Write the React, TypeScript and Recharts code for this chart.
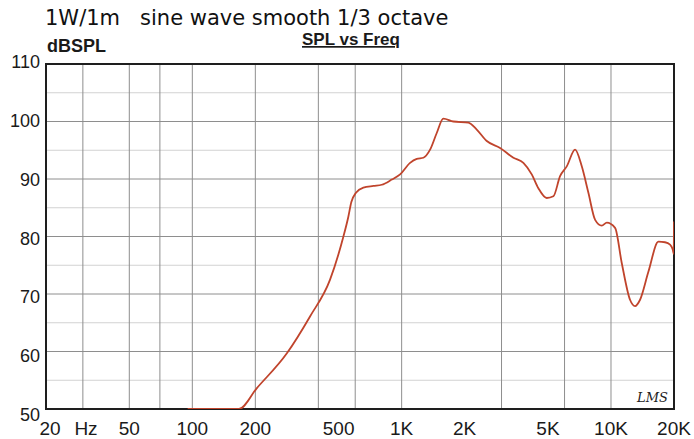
import { CartesianGrid, Line, LineChart, ReferenceArea, XAxis, YAxis } from "recharts"

// SPL response (Hz, dB)
const freqs = [
  95, 120, 150, 167, 203, 283, 365, 455, 527, 556, 575, 605, 656, 733, 803, 897, 983, 1097, 1181, 1270,
  1367, 1471, 1582, 1766, 2083, 2284, 2551, 2953, 3418, 3815, 4183, 4499, 4932, 5307, 5712, 6147, 6738,
  7252, 7800, 8400, 9036, 9550, 10461, 11256, 12330, 13030, 13770, 15100, 16850, 18120, 19150, 19740,
  19950, 20000,
]
const spl = [
  50, 50, 50, 50, 53.6, 59.7, 66.1, 72.5, 80.0, 83.4, 86.0, 87.6, 88.5, 88.8, 89.0, 89.9, 90.8, 92.8, 93.5,
  93.7, 95.1, 98.0, 100.5, 100.0, 99.8, 98.6, 96.6, 95.4, 93.7, 92.8, 90.8, 88.4, 86.7, 87.0, 90.5, 92.2,
  95.1, 92.2, 87.6, 82.9, 81.9, 82.4, 81.5, 75.4, 69.0, 67.9, 69.0, 73.9, 79.1, 79.0, 78.6, 77.7, 77.0,
  82.6,
]

const xTicks = [20, 50, 100, 200, 500, 1000, 2000, 5000, 10000, 20000]
const xTickLabels = ["20", "50", "100", "200", "500", "1K", "2K", "5K", "10K", "20K"]
const yTicks = [50, 60, 70, 80, 90, 100, 110]
const vGrid = [30, 40, 50, 60, 70, 80, 90, 100, 200, 300, 400, 500, 600, 700, 800, 900, 1000, 2000, 3000, 4000, 5000, 6000, 7000, 8000, 9000, 10000]
const hMajor = [60, 70, 80, 90, 100]
const hMinor = [55, 65, 75, 85, 95, 105]

const data = freqs.map((f, i) => ({ f, spl: spl[i] }))

const labelFont = "Arial, 'Liberation Sans', sans-serif"

const XTick = (props: any) => {
  const { x, y, payload } = props
  const i = xTicks.indexOf(payload.value)
  const label = xTickLabels[i]
  if (payload.value === 20) {
    return (
      <g>
        <text x={x + 4} y={y + 26} textAnchor="middle" fontSize={19} fontFamily={labelFont} fill="#1a1a1a">20</text>
        <text x={x + 40} y={y + 26} textAnchor="middle" fontSize={19} fontFamily={labelFont} fill="#1a1a1a">Hz</text>
      </g>
    )
  }
  return (
    <text x={x} y={y + 26} textAnchor="middle" fontSize={19} fontFamily={labelFont} fill="#1a1a1a">
      {label}
    </text>
  )
}

const YTick = (props: any) => {
  const { x, y, payload } = props
  const off = 1.5 - (payload.value - 80) * 0.133
  return (
    <text x={x - 6} y={y + off + 6.5} textAnchor="end" fontSize={18} fontFamily={labelFont} fill="#1a1a1a">
      {payload.value}
    </text>
  )
}

export default function App() {
  return (
    <div style={{ position: "absolute", left: 0, top: 0, background: "#fff" }}>
      <LineChart width={694} height={439} data={data} margin={{ top: 64, right: 20, bottom: 0, left: 6 }}>
        <CartesianGrid vertical={false} horizontalValues={hMinor} stroke="#d2d2d2" />
        <CartesianGrid verticalValues={vGrid} horizontalValues={hMajor} stroke="#8e8e8e" />
        <XAxis
          dataKey="f"
          type="number"
          scale="log"
          domain={[20, 20000]}
          ticks={xTicks}
          tick={<XTick />}
          tickLine={false}
          axisLine={false}
          tickSize={0}
          tickMargin={0}
          height={30}
          allowDataOverflow
        />
        <YAxis
          type="number"
          domain={[50, 110]}
          ticks={yTicks}
          tick={<YTick />}
          tickLine={false}
          axisLine={false}
          tickSize={0}
          tickMargin={0}
          width={40}
          allowDataOverflow
        />
        <ReferenceArea x1={20} x2={20000} y1={50} y2={110} fill="none" stroke="#1e1e1e" strokeWidth={2} />
        <Line
          type="monotone"
          dataKey="spl"
          stroke="#c0442c"
          strokeWidth={1.8}
          dot={false}
          isAnimationActive={false}
        />
        <text x={45} y={25} fontSize={21} fontFamily="'DejaVu Sans', sans-serif" fill="#111" style={{ whiteSpace: "pre" }}>
          {"1W/1m\u00a0\u00a0\u00a0sine wave smooth 1/3 octave"}
        </text>
        <text x={47} y={52} fontSize={18} fontWeight="bold" fontFamily={labelFont} fill="#1a1a1a">
          dBSPL
        </text>
        <text x={302} y={45} fontSize={17} fontWeight="bold" fontFamily={labelFont} fill="#1a1a1a" textDecoration="underline">
          SPL vs Freq
        </text>
        <text x={637} y={402} fontSize={13} fontStyle="italic" fontFamily="'DejaVu Serif', serif" fill="#222">
          LMS
        </text>
      </LineChart>
    </div>
  )
}
